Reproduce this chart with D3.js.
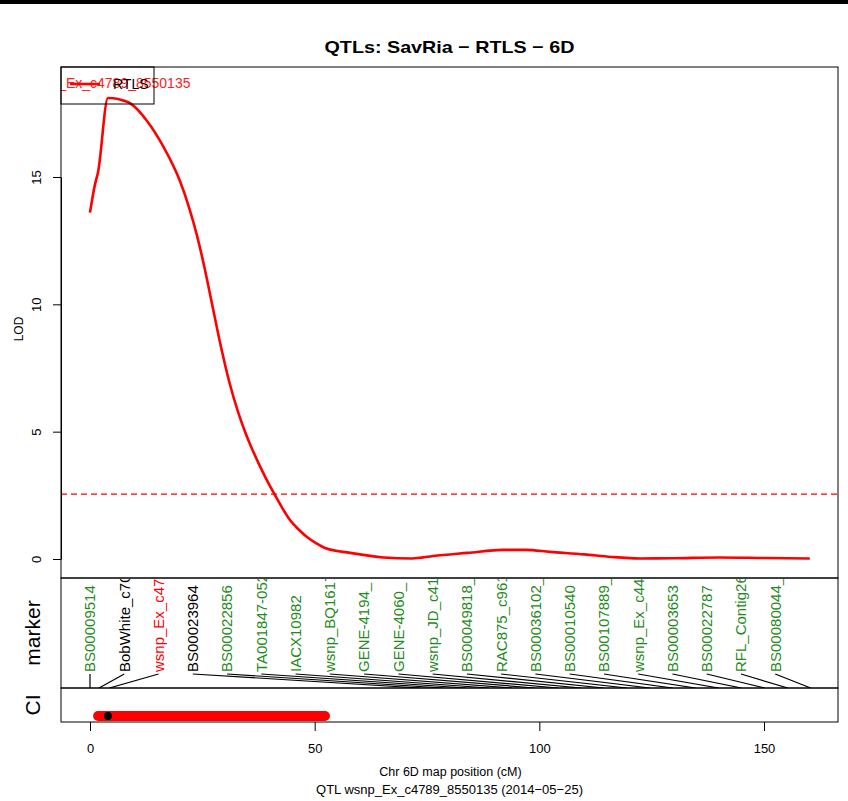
<!doctype html>
<html>
<head>
<meta charset="utf-8">
<script src="https://cdnjs.cloudflare.com/ajax/libs/d3/7.8.5/d3.min.js"></script>
<style>
  body { margin: 0; background: #fff; }
  svg { display: block; font-family: "Liberation Sans", Arial, sans-serif; }
</style>
</head>
<body>
<svg id="chart" width="848" height="801"></svg>
<script>
// LOD profile along chromosome 6D
var positions = [0, 1.1, 1.8, 4.0, 6.5, 8.9, 12.7, 16.3, 20.0, 22.0, 23.8, 25.5, 27.2, 29.0, 31.0, 33.0, 34.5, 36.0,
                 38.0, 40.0, 41.2, 42.8, 44.5, 46.5, 48.3, 50.3, 52.3,
                 57.9, 65.3, 71.7, 76.4, 84.0, 92.0, 97.0, 102.4, 110.0, 116.0, 122.5, 130.0, 140.0, 150.0, 160.2];
var lod = [13.6, 14.7, 15.2, 18.1, 18.05, 17.9, 17.2, 16.2, 14.85, 13.83, 12.71, 11.43, 9.98, 8.45, 6.95, 5.75, 5.0, 4.35,
           3.58, 2.88, 2.5, 2.0, 1.53, 1.15, 0.86, 0.62, 0.43,
           0.24, 0.06, 0.02, 0.12, 0.24, 0.36, 0.36, 0.28, 0.18, 0.08, 0.02, 0.03, 0.06, 0.04, 0.02];
var threshold = 2.55;

var markerNames = ["BS00009514", "BobWhite_c7066_1054", "wsnp_Ex_c4789_8550135", "BS00023964", "BS00022856",
                   "TA001847-0525", "IACX10982", "wsnp_BQ161779_", "GENE-4194_", "GENE-4060_", "wsnp_JD_c4160_",
                   "BS00049818_", "RAC875_c961_", "BS00036102_", "BS00010540", "BS00107889_", "wsnp_Ex_c4407_",
                   "BS00003653", "BS00022787", "RFL_Contig2611_", "BS00080044_"];
var markerPos = [0, 2.0, 4.3, 73.5, 78.6, 83.7, 88.8, 93.9, 99.0, 104.2, 109.3, 114.4, 119.5, 124.6, 129.7,
                 134.8, 139.9, 145.0, 150.2, 155.3, 160.4];
var markerRole = ["other", "flank", "peak", "flank", "other", "other", "other", "other", "other", "other", "other",
                  "other", "other", "other", "other", "other", "other", "other", "other", "other", "other"];

var ciRange = [1.8, 52.3];
var peakPos = 4.0;
var peakName = "wsnp_Ex_c4789_8550135";
var traitName = "RTLS";
var xTicks = [0, 50, 100, 150];
var yTicks = [0, 5, 10, 15];

var roleColor = {other: "#1f8a22", flank: "#000", peak: "#ff0000"};

var svg = d3.select("#chart");
var pLeft = 61, pRight = 838, pTop = 67, plotBottom = 578, markBottom = 688, ciBottom = 722;

var x = d3.scaleLinear().domain([0, 150]).range([90, 764]);
var y = d3.scaleLinear().domain([0, 15]).range([559, 177]);

svg.append("rect").attr("x", 0).attr("y", 0).attr("width", 848).attr("height", 4).attr("fill", "#000");

svg.append("text").attr("x", (pLeft + pRight) / 2).attr("y", 53)
  .attr("text-anchor", "middle").attr("font-weight", "bold").attr("font-size", 17)
  .attr("textLength", 250).attr("lengthAdjust", "spacingAndGlyphs")
  .text("QTLs: SavRia \u2212 RTLS \u2212 6D");

var defs = svg.append("defs");
defs.append("clipPath").attr("id", "plotClip").append("rect")
  .attr("x", pLeft).attr("y", pTop).attr("width", pRight - pLeft).attr("height", plotBottom - pTop);
defs.append("clipPath").attr("id", "markClip").append("rect")
  .attr("x", pLeft).attr("y", plotBottom + 1).attr("width", pRight - pLeft).attr("height", markBottom - plotBottom - 1);

// main panel
var plot = svg.append("g").attr("clip-path", "url(#plotClip)");

plot.append("line")
  .attr("x1", pLeft).attr("x2", pRight).attr("y1", y(threshold)).attr("y2", y(threshold))
  .attr("stroke", "#ff0000").attr("stroke-width", 1.2).attr("stroke-dasharray", "6,4");

var line = d3.line().x(function (d, i) { return x(positions[i]); })
  .y(function (d) { return y(d); }).curve(d3.curveMonotoneX);
plot.append("path").datum(lod).attr("d", line)
  .attr("fill", "none").attr("stroke", "#ff0000").attr("stroke-width", 2.6);

// legend
plot.append("text").attr("x", x(peakPos)).attr("y", 88).attr("text-anchor", "middle")
  .attr("font-size", 14).attr("fill", "#ff2020").text(peakName);
svg.append("rect").attr("x", pLeft).attr("y", pTop).attr("width", 93).attr("height", 37)
  .attr("fill", "none").attr("stroke", "#000").attr("stroke-width", 1);
svg.append("line").attr("x1", 70).attr("x2", 100).attr("y1", 84).attr("y2", 84)
  .attr("stroke", "#ff0000").attr("stroke-width", 2.6);
svg.append("text").attr("x", 113).attr("y", 89).attr("font-size", 14).text(traitName);

svg.append("rect").attr("x", pLeft).attr("y", pTop).attr("width", pRight - pLeft).attr("height", plotBottom - pTop)
  .attr("fill", "none").attr("stroke", "#000").attr("stroke-width", 1);

var yAxis = svg.append("g").attr("transform", "translate(" + pLeft + ",0)")
  .call(d3.axisLeft(y).tickValues(yTicks).tickSize(8).tickSizeOuter(0));
yAxis.selectAll("text").attr("x", 0).attr("dy", 0).attr("font-size", 13)
  .attr("font-family", "Liberation Sans, Arial, sans-serif").attr("fill", "#000")
  .attr("text-anchor", "middle").attr("transform", "translate(-20,0) rotate(-90)");
yAxis.selectAll("line,path").attr("stroke", "#000");

svg.append("text").attr("transform", "translate(23,329) rotate(-90)")
  .attr("text-anchor", "middle").attr("font-size", 12).text("LOD");

// marker panel
var slot = d3.scaleLinear().domain([0, markerNames.length - 1]).range([x(0), x(152.5)]);
var mark = svg.append("g").attr("clip-path", "url(#markClip)");

mark.selectAll("text.mk").data(markerNames).join("text").attr("class", "mk")
  .attr("transform", function (d, i) { return "translate(" + slot(i) + ",672) rotate(-90)"; })
  .attr("dy", "0.36em").attr("font-size", 15)
  .attr("fill", function (d, i) { return roleColor[markerRole[i]]; })
  .text(function (d) { return d; });

mark.selectAll("line.cn").data(markerPos).join("line").attr("class", "cn")
  .attr("x1", function (d, i) { return slot(i); }).attr("y1", 674)
  .attr("x2", function (d) { return x(d); }).attr("y2", markBottom)
  .attr("stroke", "#000").attr("stroke-width", 1.2);

svg.append("rect").attr("x", pLeft).attr("y", plotBottom).attr("width", pRight - pLeft).attr("height", markBottom - plotBottom)
  .attr("fill", "none").attr("stroke", "#000").attr("stroke-width", 1);
svg.append("text").attr("transform", "translate(40,633) rotate(-90)")
  .attr("text-anchor", "middle").attr("font-size", 21).text("marker");

// CI panel
svg.append("line").attr("x1", x(ciRange[0])).attr("x2", x(ciRange[1])).attr("y1", 716).attr("y2", 716)
  .attr("stroke", "#ff0000").attr("stroke-width", 10).attr("stroke-linecap", "round");
svg.append("circle").attr("cx", x(peakPos)).attr("cy", 716).attr("r", 4).attr("fill", "#000");
svg.append("rect").attr("x", pLeft).attr("y", markBottom).attr("width", pRight - pLeft).attr("height", ciBottom - markBottom)
  .attr("fill", "none").attr("stroke", "#000").attr("stroke-width", 1);
svg.append("text").attr("transform", "translate(40,705) rotate(-90)")
  .attr("text-anchor", "middle").attr("font-size", 21).text("CI");

var xAxis = svg.append("g").attr("transform", "translate(0," + ciBottom + ")")
  .call(d3.axisBottom(x).tickValues(xTicks).tickSize(9).tickSizeOuter(0).tickPadding(13));
xAxis.selectAll("text").attr("font-size", 13).attr("font-family", "Liberation Sans, Arial, sans-serif").attr("fill", "#000");
xAxis.selectAll("line").attr("stroke", "#000");
xAxis.select(".domain").remove();

svg.append("text").attr("x", (pLeft + pRight) / 2 + 1).attr("y", 776).attr("text-anchor", "middle")
  .attr("font-size", 12.5).text("Chr 6D map position (cM)");
svg.append("text").attr("x", (pLeft + pRight) / 2).attr("y", 794).attr("text-anchor", "middle")
  .attr("font-size", 13).text("QTL wsnp_Ex_c4789_8550135 (2014\u221205\u221225)");
</script>
</body>
</html>
